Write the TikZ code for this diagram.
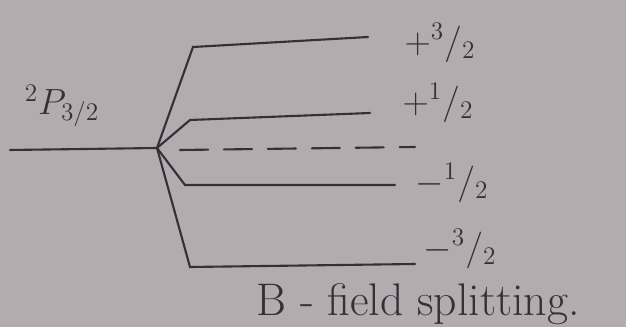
\documentclass[tikz,border=0pt]{standalone}
\usepackage{xcolor}
\usepackage{amsmath}
\definecolor{paper}{RGB}{178,172,175}
\definecolor{ink}{RGB}{52,48,52}

\tikzset{
  lvl/.style={line width=1.2pt, ink, line cap=round},
  mlabel/.style={ink, font=\fontsize{20}{24}\selectfont},
}

\begin{document}
\begin{tikzpicture}[x=0.02cm, y=-0.02cm]

% paper
\fill[paper] (0,0) rectangle (626,327);
\useasboundingbox (0,0) rectangle (626,327);

% unsplit level 2P3/2
\coordinate (zero) at (10,150);
\coordinate (split) at (157,148);
\draw[lvl] (zero) -- (split);
\node[mlabel] (term) at (62,106) {$^{2}P_{3/2}$};

% split levels (mj = +3/2 ... -3/2)
\coordinate (a1) at (193,47);  \coordinate (a2) at (368,37);
\coordinate (b1) at (190,120); \coordinate (b2) at (370,113);
\coordinate (c1) at (185,185); \coordinate (c2) at (395,185);
\coordinate (d1) at (190,267); \coordinate (d2) at (415,264);
\draw[lvl] (split) -- (a1) -- (a2);
\draw[lvl] (split) -- (b1) -- (b2);
\draw[lvl] (split) -- (c1) -- (c2);
\draw[lvl] (split) -- (d1) -- (d2);

% old level, dashed
\coordinate (e1) at (180,150); \coordinate (e2) at (415,147);
\draw[lvl, dash pattern=on 16pt off 9pt] (e1) -- (e2);

% mj labels
\node[mlabel] (ma) at (440,43)  {$+{}^{3}/_{2}$};
\node[mlabel] (mb) at (438,103) {$+{}^{1}/_{2}$};
\node[mlabel] (mc) at (452,183) {$-{}^{1}/_{2}$};
\node[mlabel] (md) at (460,249) {$-{}^{3}/_{2}$};

% caption
\node[ink, font=\fontsize{26}{30}\selectfont] (cap) at (418,304) {B - field splitting.};

\end{tikzpicture}
\end{document}
